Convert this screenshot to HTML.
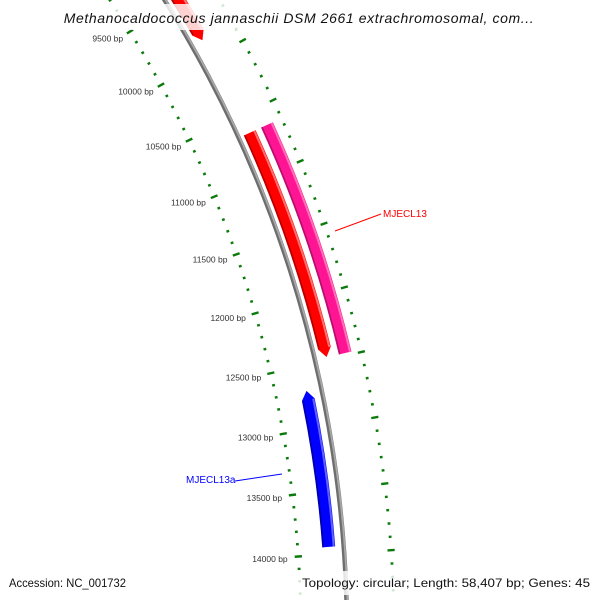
<!DOCTYPE html>
<html><head><meta charset="utf-8"><style>
html,body{margin:0;padding:0;background:#fff;width:600px;height:600px;overflow:hidden;}
svg{display:block;font-family:"Liberation Sans","DejaVu Sans",sans-serif;overflow:hidden;}
</style></head><body>
<svg id="map" width="600" height="600" viewBox="0 0 600 600" xmlns="http://www.w3.org/2000/svg">
<defs><clipPath id="frame"><rect x="0" y="0" width="600" height="600"/></clipPath></defs>
<g clip-path="url(#frame)">
<g id="ticks"></g>
<g id="backbone"></g>
<g id="genes"></g>
<g id="labels"></g>
<line x1="335" y1="231" x2="381" y2="214" stroke="#ff0000" stroke-width="1"/>
<text x="383" y="217" font-size="10" fill="#ff0000">MJECL13</text>
<line x1="235" y1="481" x2="282" y2="474" stroke="#0000ff" stroke-width="1"/>
<text x="186" y="483" font-size="10" fill="#0000ff">MJECL13a</text>
<rect x="58" y="4" width="484" height="26" fill="#fff" opacity="0.82"/>
<text x="299" y="23" font-size="14" font-style="italic" text-anchor="middle" fill="#111" letter-spacing="0.6">Methanocaldococcus jannaschii DSM 2661 extrachromosomal, com...</text>
<rect x="298" y="571" width="298" height="24" fill="#fff" opacity="0.82"/>
<text x="9" y="587" font-size="12" fill="#111" textLength="117" lengthAdjust="spacingAndGlyphs">Accession: NC_001732</text>
<text x="302" y="587" font-size="12" fill="#111" textLength="288" lengthAdjust="spacingAndGlyphs">Topology: circular; Length: 58,407 bp; Genes: 45</text>
</g>
</svg>
<script>
const genomeLength = 58407;
const majorTicks = [9000,9500,10000,10500,11000,11500,12000,12500,13000,13500,14000,14500];
const tickLabels = ["9000 bp","9500 bp","10000 bp","10500 bp","11000 bp","11500 bp","12000 bp","12500 bp","13000 bp","13500 bp","14000 bp","14500 bp"];
const geneNames = ["MJECL12","MJECL13","MJECL13b","MJECL13a"];
const geneStarts = [8500,10650,10650,12700];
const geneEnds = [9850,12476,12479,13941];
const geneStrands = [1,1,0,-1];

const NS="http://www.w3.org/2000/svg";
const CX=-849, CY=635, B0=14635, K=2*Math.PI/genomeLength;
function ang(bp){return (bp-B0)*K;}
function pt(r,bp){const a=ang(bp);return [CX+r*Math.cos(a),CY+r*Math.sin(a)];}
function mk(tag,attrs,parent){const e=document.createElementNS(NS,tag);for(const k in attrs)e.setAttribute(k,attrs[k]);parent.appendChild(e);return e;}

const tg=document.getElementById('ticks');
[1150,1243].forEach(function(r){
  for(let bp=9000;bp<=14800;bp+=100){
    const major=bp%500===0;
    const h=major?3.6:1.4;
    const a=pt(r-h,bp),b=pt(r+h,bp);
    const l=mk('line',{x1:a[0],y1:a[1],x2:b[0],y2:b[1],stroke:'#0a7a0a','stroke-width':2.4},tg);
    
    
  }
});

const bb=document.getElementById('backbone');
(function(){
  const a=pt(1196,8500),b=pt(1196,15000);
  const p=mk('path',{d:`M${a[0]},${a[1]} A1196,1196 0 0 1 ${b[0]},${b[1]}`,fill:'none',stroke:'#6e6e6e','stroke-width':4.5},bb);
  
  
  const q=mk('path',{d:`M${pt(1197,8500)} A1197,1197 0 0 1 ${pt(1197,15000)}`,fill:'none',stroke:'#a8a8a8','stroke-width':1.8},bb);
  
  
})();

const gg=document.getElementById('genes');
const geneRadius=[1208,1208,1227,1181];
const geneColor=['#ff0000','#ff0000','#ff1493','#0000ff'];
const geneDark=['#b00000','#b00000','#b0106a','#0000a0'];
const geneLight=['#ff7070','#ff7070','#ff70b8','#6060ff'];
function sector(r0,r1,s,e,strand){
  const w=70;
  let d;
  const rm=(r0+r1)/2;
  if(strand===1){
    const e2=e-w;
    const p1=pt(r0,s),p2=pt(r0,e2),p3=pt(rm,e),p4=pt(r1,e2),p5=pt(r1,s);
    d=`M${p1} A${r0},${r0} 0 0 1 ${p2} L${p3} L${p4} A${r1},${r1} 0 0 0 ${p5} Z`;
  }else if(strand===-1){
    const s2=s+w;
    const p0=pt(rm,s),p1=pt(r0,s2),p2=pt(r0,e),p4=pt(r1,e),p5=pt(r1,s2);
    d=`M${p0} L${p1} A${r0},${r0} 0 0 1 ${p2} L${p4} A${r1},${r1} 0 0 0 ${p5} Z`;
  }else{
    const p1=pt(r0,s),p2=pt(r0,e),p4=pt(r1,e),p5=pt(r1,s);
    d=`M${p1} A${r0},${r0} 0 0 1 ${p2} L${p4} A${r1},${r1} 0 0 0 ${p5} Z`;
  }
  return d;
}
for(let i=0;i<geneNames.length;i++){
  const r=geneRadius[i];
  const g=mk('g',{},gg);
  
  
  const p=mk('path',{d:sector(r-6.5,r+6.5,geneStarts[i],geneEnds[i],geneStrands[i]),fill:geneColor[i]},g);
  
  
  const s=geneStarts[i]+(geneStrands[i]===-1?70:0), e=geneEnds[i]-(geneStrands[i]===1?70:0);
  const h=mk('path',{d:`M${pt(r+5,s)} A${r+5},${r+5} 0 0 1 ${pt(r+5,e)}`,fill:'none',stroke:geneLight[i],'stroke-width':2},g);
  
  
  const dk=mk('path',{d:`M${pt(r-5.5,s)} A${r-5.5},${r-5.5} 0 0 1 ${pt(r-5.5,e)}`,fill:'none',stroke:geneDark[i],'stroke-width':1.5},g);
  
  
}

const lg=document.getElementById('labels');
for(let i=0;i<majorTicks.length;i++){
  const p=pt(1139,majorTicks[i]+40);
  const t=mk('text',{x:p[0],y:p[1],'font-size':8.5,'text-anchor':'end',fill:'#333'},lg);
  t.textContent=tickLabels[i];
  
  
}
</script>
</body></html>
